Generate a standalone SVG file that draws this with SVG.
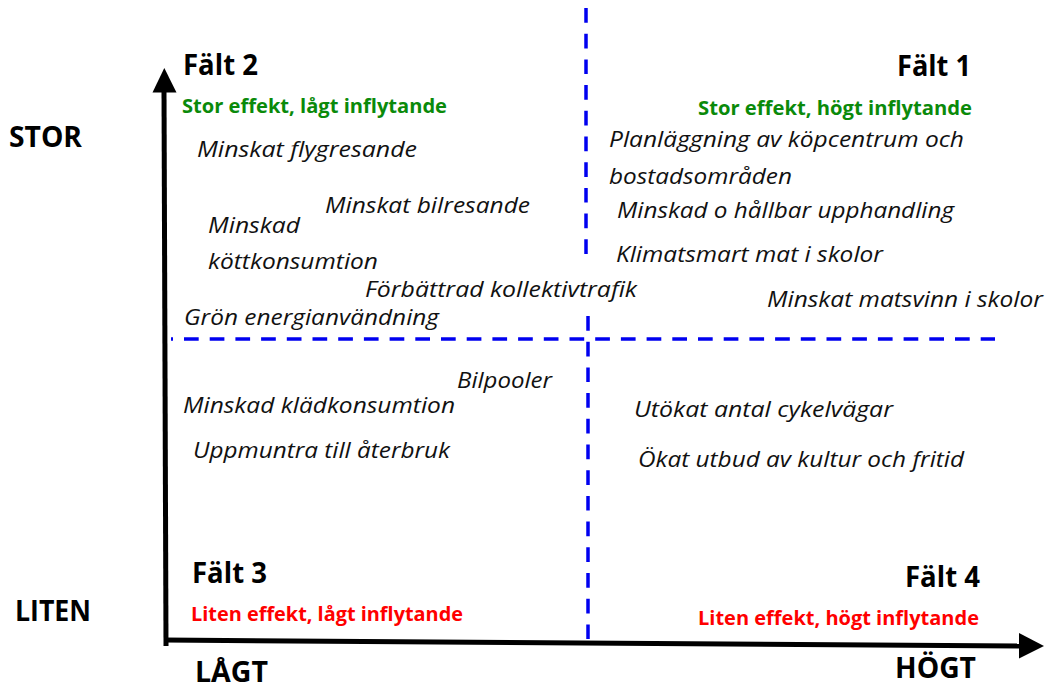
<svg xmlns="http://www.w3.org/2000/svg" width="1046" height="690" viewBox="0 0 1046 690">
<style>
  .hdr{font-family:"Open Sans","Noto Sans","Liberation Sans",sans-serif;font-weight:700;font-size:29px;fill:#000}
  .axl{font-family:"Open Sans","Noto Sans","Liberation Sans",sans-serif;font-weight:700;font-size:28px;fill:#000}
  .grn{font-family:"Open Sans","Noto Sans","Liberation Sans",sans-serif;font-weight:700;font-size:20px;fill:#0a8a0a}
  .red{font-family:"Open Sans","Noto Sans","Liberation Sans",sans-serif;font-weight:700;font-size:20px;fill:#ff0000}
  .itm{font-family:"Open Sans","Noto Sans","Liberation Sans",sans-serif;font-style:italic;font-size:22px;fill:#111}
  .dash{stroke:#0000f0;stroke-width:3.5;stroke-dasharray:14.7 11;fill:none}
  .axis{stroke:#000;stroke-width:5;fill:none}
</style>
<rect width="1046" height="690" fill="#fff"/>
<g id="connectors">
  <line class="dash" x1="586" y1="8" x2="586" y2="254"/>
  <line class="dash" x1="588" y1="316" x2="588" y2="639"/>
  <line class="dash" x1="171" y1="339" x2="995" y2="339" stroke-dashoffset="12.7"/>
  <line class="axis" x1="166" y1="646" x2="164" y2="90"/>
  <polygon points="164.3,68 152.5,92.5 176.5,92.5" fill="#000"/>
  <line class="axis" x1="164" y1="640" x2="1021" y2="646"/>
  <polygon points="1044,646 1019,633 1019,658.5" fill="#000"/>
</g>
<g id="axis-labels">
  <text class="axl" x="9" y="147" textLength="73" lengthAdjust="spacingAndGlyphs">STOR</text>
  <text class="axl" x="15" y="621" textLength="76" lengthAdjust="spacingAndGlyphs">LITEN</text>
  <text class="axl" x="195" y="682" textLength="73" lengthAdjust="spacingAndGlyphs">LÅGT</text>
  <text class="axl" x="895" y="678" textLength="81" lengthAdjust="spacingAndGlyphs">HÖGT</text>
</g>
<g id="falt2">
  <text class="hdr" x="183" y="75" textLength="75" lengthAdjust="spacingAndGlyphs">Fält 2</text>
  <text class="grn" x="182" y="113" textLength="265" lengthAdjust="spacingAndGlyphs">Stor effekt, lågt inflytande</text>
  <text class="itm" x="197" y="157" textLength="220" lengthAdjust="spacingAndGlyphs">Minskat flygresande</text>
  <text class="itm" x="325" y="213" textLength="205" lengthAdjust="spacingAndGlyphs">Minskat bilresande</text>
  <text class="itm" x="208" y="233" textLength="92" lengthAdjust="spacingAndGlyphs">Minskad</text>
  <text class="itm" x="208" y="269" textLength="170" lengthAdjust="spacingAndGlyphs">köttkonsumtion</text>
  <text class="itm" x="365" y="297" textLength="272" lengthAdjust="spacingAndGlyphs">Förbättrad kollektivtrafik</text>
  <text class="itm" x="184" y="325" textLength="255" lengthAdjust="spacingAndGlyphs">Grön energianvändning</text>
</g>
<g id="falt1">
  <text class="hdr" x="897" y="76" textLength="74" lengthAdjust="spacingAndGlyphs">Fält 1</text>
  <text class="grn" x="698" y="115" textLength="274" lengthAdjust="spacingAndGlyphs">Stor effekt, högt inflytande</text>
  <text class="itm" x="609" y="147" textLength="355" lengthAdjust="spacingAndGlyphs">Planläggning av köpcentrum och</text>
  <text class="itm" x="609" y="184" textLength="183" lengthAdjust="spacingAndGlyphs">bostadsområden</text>
  <text class="itm" x="617" y="218" textLength="337" lengthAdjust="spacingAndGlyphs">Minskad o hållbar upphandling</text>
  <text class="itm" x="616" y="262" textLength="267" lengthAdjust="spacingAndGlyphs">Klimatsmart mat i skolor</text>
  <text class="itm" x="767" y="307" textLength="276" lengthAdjust="spacingAndGlyphs">Minskat matsvinn i skolor</text>
</g>
<g id="falt3">
  <text class="itm" x="457" y="388" textLength="95" lengthAdjust="spacingAndGlyphs">Bilpooler</text>
  <text class="itm" x="183" y="413" textLength="272" lengthAdjust="spacingAndGlyphs">Minskad klädkonsumtion</text>
  <text class="itm" x="193" y="458" textLength="257" lengthAdjust="spacingAndGlyphs">Uppmuntra till återbruk</text>
  <text class="hdr" x="192" y="583" textLength="75" lengthAdjust="spacingAndGlyphs">Fält 3</text>
  <text class="red" x="191" y="621" textLength="272" lengthAdjust="spacingAndGlyphs">Liten effekt, lågt inflytande</text>
</g>
<g id="falt4">
  <text class="itm" x="634" y="417" textLength="259" lengthAdjust="spacingAndGlyphs">Utökat antal cykelvägar</text>
  <text class="itm" x="638" y="467" textLength="326" lengthAdjust="spacingAndGlyphs">Ökat utbud av kultur och fritid</text>
  <text class="hdr" x="905" y="587" textLength="75" lengthAdjust="spacingAndGlyphs">Fält 4</text>
  <text class="red" x="698" y="625" textLength="281" lengthAdjust="spacingAndGlyphs">Liten effekt, högt inflytande</text>
</g>
</svg>
